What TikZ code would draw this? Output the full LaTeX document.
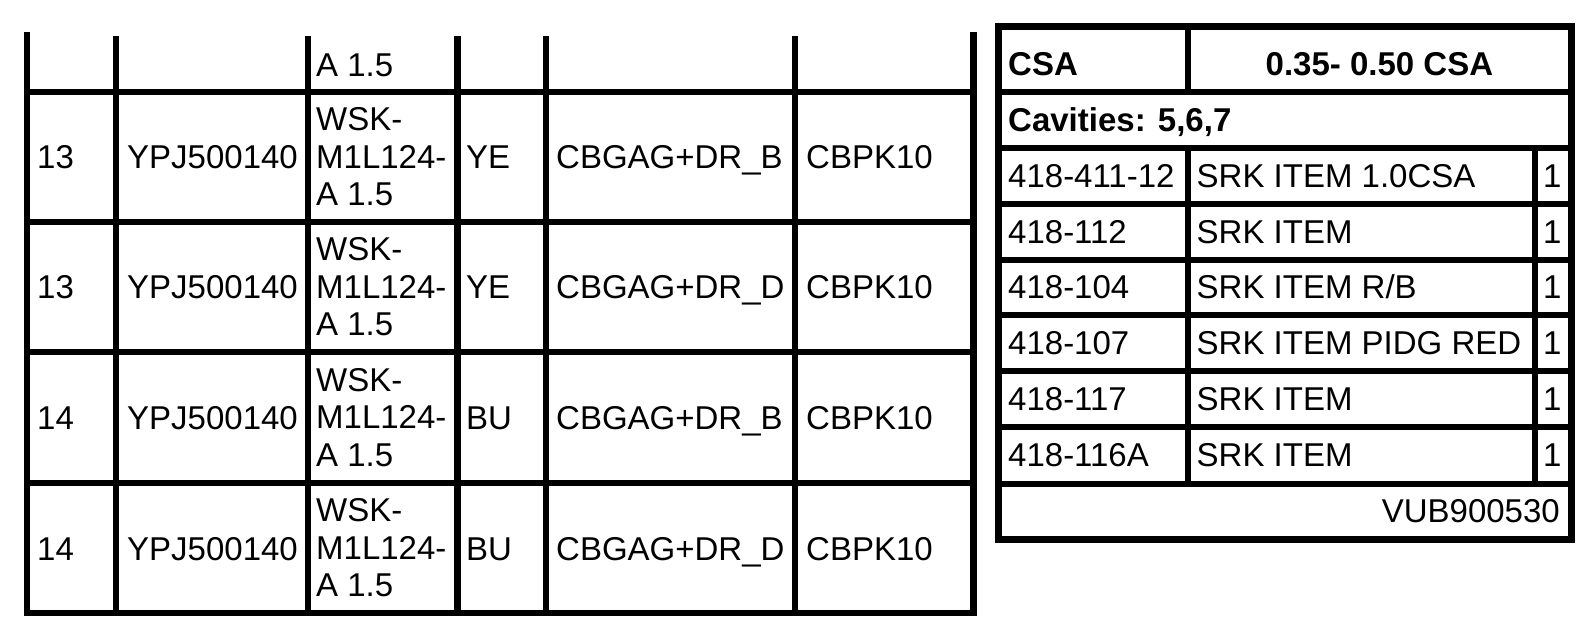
\documentclass[tikz,border=0pt]{standalone}
\usepackage{fontspec}
\setmainfont{Liberation Sans}
\begin{document}
\begin{tikzpicture}[x=1pt,y=-1pt,
  cell/.style={inner sep=0pt,font=\fontsize{33}{37.5}\selectfont,anchor=base west},
  multi/.style={inner sep=0pt,font=\fontsize{33}{37.5}\selectfont,anchor=west,align=left},
  hdr/.style={inner sep=0pt,font=\fontsize{33}{37.5}\selectfont\bfseries,anchor=base west},
  outerL/.style={line width=6.8pt,line join=miter},
  innerL/.style={line width=6.5pt},
  outerR/.style={line width=7pt,line join=miter},
  innerR/.style={line width=6pt}]
\useasboundingbox (0,0) rectangle (1596,638);
% ---------- left table ----------
\draw[outerL] (27,32) -- (27,613) -- (973.5,613) -- (973.5,32);
\foreach \y in {92,222,352,483} \draw[innerL] (27,\y) -- (973.5,\y);
\foreach \x in {116,308,457.5,546,795} \draw[innerL] (\x,36) -- (\x,613);
% top partial row
\node[cell] (a0) at (316,76) {A 1.5};
% row 1
\node[cell] (n1) at (37,168.5) {13};
\node[cell] (p1) at (127,168.5) {YPJ500140};
\node[multi] (w1) at (316,157) {WSK-\\M1L124-\\A 1.5};
\node[cell] (c1) at (466,168.5) {YE};
\node[cell] (g1) at (556,168.5) {CBGAG+DR\_B};
\node[cell] (k1) at (806,168.5) {CBPK10};
% row 2
\node[cell] (n2) at (37,298.5) {13};
\node[cell] (p2) at (127,298.5) {YPJ500140};
\node[multi] (w2) at (316,287) {WSK-\\M1L124-\\A 1.5};
\node[cell] (c2) at (466,298.5) {YE};
\node[cell] (g2) at (556,298.5) {CBGAG+DR\_D};
\node[cell] (k2) at (806,298.5) {CBPK10};
% row 3
\node[cell] (n3) at (37,429.5) {14};
\node[cell] (p3) at (127,429.5) {YPJ500140};
\node[multi] (w3) at (316,417.5) {WSK-\\M1L124-\\A 1.5};
\node[cell] (c3) at (466,429.5) {BU};
\node[cell] (g3) at (556,429.5) {CBGAG+DR\_B};
\node[cell] (k3) at (806,429.5) {CBPK10};
% row 4
\node[cell] (n4) at (37,560) {14};
\node[cell] (p4) at (127,560) {YPJ500140};
\node[multi] (w4) at (316,548) {WSK-\\M1L124-\\A 1.5};
\node[cell] (c4) at (466,560) {BU};
\node[cell] (g4) at (556,560) {CBGAG+DR\_D};
\node[cell] (k4) at (806,560) {CBPK10};
% ---------- right table ----------
\draw[outerR] (998,26.7) rectangle (1571.3,539.5);
\foreach \y in {92.3,148,203.7,259.7,315,371,427,483.5} \draw[innerR] (998,\y) -- (1571.3,\y);
\draw[innerR] (1187.5,26.7) -- (1187.5,92.3);
\draw[innerR] (1187.5,148) -- (1187.5,483.5);
\draw[innerR] (1534.5,148) -- (1534.5,483.5);
\node[hdr] (csa) at (1008,75) {CSA};
\node[hdr,anchor=base] (range) at (1379.4,75) {0.35- 0.50 CSA};
\node[hdr] (cav) at (1008,131.7) {Cavities: 5,6,7};
\node[cell] (i1) at (1008,187) {418-411-12};
\node[cell] (d1) at (1196.5,187) {SRK ITEM 1.0CSA};
\node[cell] (q1) at (1543,187) {1};
\node[cell] (i2) at (1008,243) {418-112};
\node[cell] (d2) at (1196.5,243) {SRK ITEM};
\node[cell] (q2) at (1543,243) {1};
\node[cell] (i3) at (1008,298.8) {418-104};
\node[cell] (d3) at (1196.5,298.8) {SRK ITEM R/B};
\node[cell] (q3) at (1543,298.8) {1};
\node[cell] (i4) at (1008,354.5) {418-107};
\node[cell] (d4) at (1196.5,354.5) {SRK ITEM PIDG RED};
\node[cell] (q4) at (1543,354.5) {1};
\node[cell] (i5) at (1008,410.5) {418-117};
\node[cell] (d5) at (1196.5,410.5) {SRK ITEM};
\node[cell] (q5) at (1543,410.5) {1};
\node[cell] (i6) at (1008,466.5) {418-116A};
\node[cell] (d6) at (1196.5,466.5) {SRK ITEM};
\node[cell] (q6) at (1543,466.5) {1};
\node[cell,anchor=base east] (vub) at (1560,522) {VUB900530};
\end{tikzpicture}
\end{document}
